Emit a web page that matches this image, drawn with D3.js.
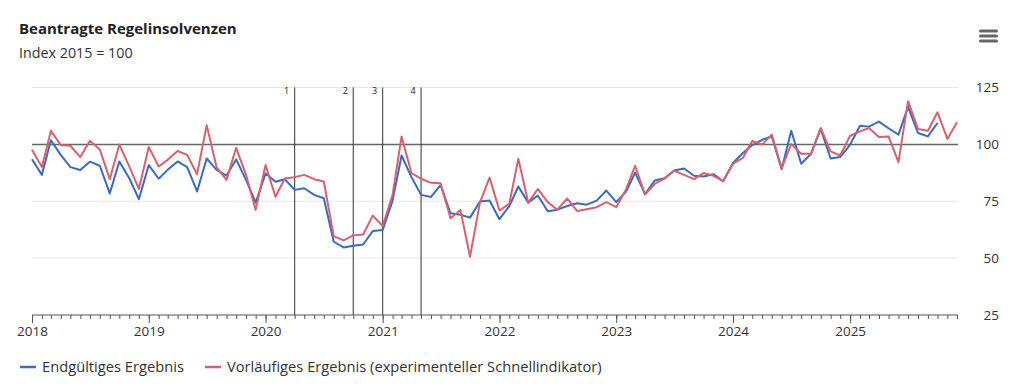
<!DOCTYPE html>
<html>
<head>
<meta charset="utf-8">
<script src="https://d3js.org/d3.v7.min.js"></script>
<style>
  body { margin: 0; background: #fff; }
  * { font-family: 'Open Sans', 'Noto Sans', sans-serif; }
  .title { font-size: 15px; font-weight: bold; fill: #222; }
  .subtitle { font-size: 14.3px; fill: #333; }
  .tick text { font-size: 13.5px; fill: #333; }
  .legend text { font-size: 14.7px; fill: #333; }
</style>
</head>
<body>
<svg id="chart"></svg>
<script>
var width = 1024;
var height = 391;

// Index 2015 = 100, monthly from Jan 2018
var startMonth = new Date(2018, 0, 1);
var finalValues = [
  93.5, 86.6, 101.8, 95.4, 90, 88.7, 92.4, 90.6, 78.4, 92.5, 85.1, 75.9,
  90.9, 84.9, 88.8, 92.5, 90, 79.3, 93.8, 88.8, 86.3, 93.4, 84.4, 74.4,
  87.2, 83.6, 84.7, 80, 80.7, 77.8, 76.3, 57.2, 54.7, 55.4, 56, 61.9,
  62.4, 75.3, 95.1, 85.6, 77.8, 76.9, 82.1, 69.7, 69.1, 67.8, 74.9, 75.3,
  67.1, 72.9, 81.5, 74.4, 77.5, 70.6, 71.3, 72.9, 74.1, 73.5, 75.3, 79.7,
  74.6, 79.3, 87.6, 78.2, 84.1, 85.1, 88.5, 89.4, 86.2, 85.9, 86.9, 83.8,
  91.8, 96.2, 99.7, 102, 103.5, 89.1, 106, 91.5, 95.9, 106.8, 93.8, 94.4,
  99.9, 108.2, 107.8, 110, 107.1, 104.3, 116.5, 105, 103.5, 109.4
];
var prelimValues = [
  97.6, 90, 106, 99.7, 99.4, 94.4, 101.6, 97.8, 84.7, 99.9, 90.3, 80.4,
  98.8, 90.3, 93.2, 97.1, 95.4, 86.9, 108.4, 89.9, 84.4, 98.5, 86.6, 71.2,
  90.9, 77, 85, 85.6, 86.6, 84.7, 83.7, 59.7, 57.8, 60, 60.4, 68.7,
  64.1, 77.8, 103.5, 87.4, 84.9, 83.1, 82.9, 67.5, 71.2, 50.6, 74.4, 85.4,
  70.9, 74, 93.7, 74.4, 80.4, 74.6, 71.3, 76.2, 70.7, 71.5, 72.4, 74.6,
  72.4, 80.3, 90.6, 77.9, 82.6, 84.9, 88.4, 86.6, 84.7, 87.4, 86.2, 83.8,
  91.5, 94.1, 101.5, 99.9, 104.3, 89.6, 100.1, 95.9, 95.9, 107.2, 96.9, 95.1,
  103.8, 105.7, 107.2, 103.2, 103.5, 92.2, 119, 106.8, 106, 114.1, 102.4, 109.7
];
var eventDates = [new Date(2020, 3, 1), new Date(2020, 9, 1), new Date(2021, 0, 1), new Date(2021, 4, 1)];
var eventLabels = ["1", "2", "3", "4"];
var yTicks = [25, 50, 75, 100, 125];
var seriesNames = ["Endgültiges Ergebnis", "Vorläufiges Ergebnis (experimenteller Schnellindikator)"];
var seriesColors = ["#3a6bbf", "#d9606f"];

var svg = d3.select("#chart").attr("width", width).attr("height", height);

var x = d3.scaleTime()
  .domain([startMonth, new Date(2025, 11, 1)])
  .range([32, 957]);
var y = d3.scaleLinear().domain([25, 125]).range([315, 87.5]);

function toPoints(values) {
  return values.map(function(v, i) { return { date: d3.timeMonth.offset(startMonth, i), value: v }; });
}

// titles
svg.append("text").attr("class", "title").attr("x", 19).attr("y", 34).text("Beantragte Regelinsolvenzen");
svg.append("text").attr("class", "subtitle").attr("x", 19).attr("y", 58).text("Index 2015 = 100");

// menu icon
[31, 36, 41].forEach(function(yy) {
  svg.append("rect").attr("x", 979).attr("y", yy - 1.5).attr("width", 19).attr("height", 3)
    .attr("rx", 1.5).attr("fill", "#666");
});

// grid lines
svg.append("g").selectAll("line")
  .data(yTicks.filter(function(d) { return d !== 25 && d !== 100; }))
  .enter().append("line")
  .attr("x1", 32).attr("x2", 958)
  .attr("y1", function(d) { return y(d); }).attr("y2", function(d) { return y(d); })
  .attr("stroke", "#e6e6e6").attr("stroke-width", 1);

// y labels on the right
var yAxis = svg.append("g").attr("transform", "translate(999,0)")
  .call(d3.axisRight(y).tickValues(yTicks).tickSize(0).tickPadding(0));
yAxis.select(".domain").remove();
yAxis.selectAll("text").attr("text-anchor", "end");

// 100 reference line
svg.append("line")
  .attr("x1", 32).attr("x2", 958).attr("y1", y(100)).attr("y2", y(100))
  .attr("stroke", "#666").attr("stroke-width", 1.5);

// event lines
var ev = svg.append("g").selectAll("g").data(eventDates).enter().append("g");
ev.append("line")
  .attr("x1", function(d) { return x(d); }).attr("x2", function(d) { return x(d); })
  .attr("y1", y(125)).attr("y2", y(25))
  .attr("stroke", "#333").attr("stroke-width", 1);
ev.append("text")
  .attr("x", function(d) { return x(d) - 8; }).attr("y", 94)
  .attr("text-anchor", "middle")
  .style("font-size", "9px").attr("fill", "#222")
  .text(function(d, i) { return eventLabels[i]; });

// x axis: monthly small ticks, yearly labelled ticks
var xAxis = svg.append("g").attr("transform", "translate(0,315)");
xAxis.call(d3.axisBottom(x).ticks(d3.timeMonth.every(1)).tickSize(4).tickFormat(""));
xAxis.select(".domain").attr("stroke", "#555").attr("d", "M32,0H958");
xAxis.selectAll(".tick line").attr("stroke", "#555");
var xYears = svg.append("g").attr("transform", "translate(0,315)");
xYears.call(d3.axisBottom(x).ticks(d3.timeYear.every(1)).tickSize(8).tickPadding(3).tickFormat(d3.timeFormat("%Y")));
xYears.select(".domain").remove();
xYears.selectAll(".tick line").attr("stroke", "#555");

// lines
var line = d3.line()
  .x(function(d) { return x(d.date); })
  .y(function(d) { return y(d.value); });

[finalValues, prelimValues].forEach(function(vals, i) {
  svg.append("path")
    .datum(toPoints(vals))
    .attr("fill", "none")
    .attr("stroke", seriesColors[i])
    .attr("stroke-width", 2)
    .attr("stroke-linejoin", "round")
    .attr("d", line);
});

// legend
var legend = svg.append("g").attr("class", "legend");
var legendX = [20, 205];
seriesNames.forEach(function(name, i) {
  legend.append("line")
    .attr("x1", legendX[i]).attr("x2", legendX[i] + 16)
    .attr("y1", 367).attr("y2", 367)
    .attr("stroke", seriesColors[i]).attr("stroke-width", 2.5);
  legend.append("text")
    .attr("x", legendX[i] + 22).attr("y", 372)
    .text(name);
});
</script>
</body>
</html>
